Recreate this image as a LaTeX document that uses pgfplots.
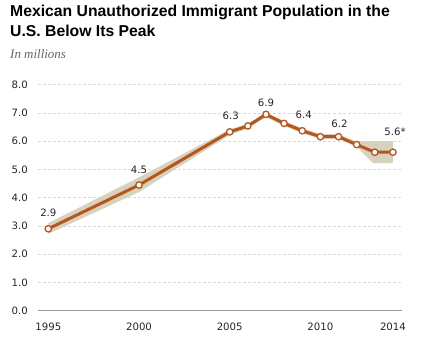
\documentclass[border=0pt]{standalone}
\usepackage{fontspec}
\setmainfont{DejaVu Sans}
\newfontfamily\titlefont{Liberation Sans}
\newfontfamily\subfont{Liberation Serif}
\usepackage{pgfplots}
\pgfplotsset{compat=1.18}
\definecolor{linebrown}{HTML}{B4561E}
\definecolor{bandtan}{HTML}{D8D1BD}
\definecolor{gridgray}{HTML}{DADADA}
\definecolor{axisgray}{HTML}{999999}
\begin{document}
\begin{tikzpicture}[x=1bp,y=1bp]
\path (0,0) rectangle (424,338);
\node[anchor=base west, inner sep=0] at (10,321.3) {\titlefont\bfseries\fontsize{15.8}{18}\selectfont Mexican Unauthorized Immigrant Population in the};
\node[anchor=base west, inner sep=0] at (10,301.3) {\titlefont\bfseries\fontsize{15.8}{18}\selectfont U.S. Below Its Peak};
\node[anchor=base west, inner sep=0, text=black!60] at (10,280) {\subfont\itshape\fontsize{13}{14}\selectfont In millions};
\begin{axis}[
  at={(38bp,27.3bp)}, anchor=south west,
  scale only axis, width=364bp, height=226bp,
  xmin=1994.43, xmax=2014.5, ymin=0, ymax=8,
  clip=false,
  axis x line*=bottom, axis y line*=left,
  x axis line style={axisgray, line width=1bp, -},
  y axis line style={draw=none},
  tick style={draw=none},
  ytick={0,1,2,3,4,5,6,7,8},
  xtick={1995,2000,2005,2010,2014},
  xticklabels={1995,2000,2005,2010,2014},
  ymajorgrids,
  major grid style={gridgray, dash pattern=on 3bp off 2bp, line width=0.8bp},
  /pgf/number format/assume math mode=true,
  yticklabel={\pgfmathprintnumber[fixed, fixed zerofill, precision=1]{\tick}},
  ticklabel style={font=\fontsize{10.2}{11}\selectfont, text=black!85},
  yticklabel style={inner sep=0pt, anchor=east, xshift=-10bp},
  xticklabel style={inner sep=0pt, anchor=north, yshift=-12bp},
]
\addplot[fill=bandtan, draw=none] coordinates {
 (1995,3.1) (2000,4.72) (2005,6.42) (2006,6.62) (2007,7.0) (2008,6.72) (2009,6.46) (2010,6.25) (2011,6.25) (2012,5.98) (2012.3,6.0) (2013,6.0) (2014,6.0)
 (2014,5.22) (2013,5.22) (2012.9,5.22) (2012,5.8) (2011,6.08) (2010,6.08) (2009,6.28) (2008,6.54) (2007,6.85) (2006,6.45) (2005,6.22) (2000,4.2) (1995,2.72)
} -- cycle;
\addplot[linebrown, line width=3bp, mark=*, mark size=3.2bp,
  mark options={fill=white, draw=linebrown, line width=1.3bp}] coordinates {
 (1995,2.9) (2000,4.45) (2005,6.33) (2006,6.54) (2007,6.95) (2008,6.63) (2009,6.37) (2010,6.16) (2011,6.16) (2012,5.88) (2013,5.61) (2014,5.61)
};
\tikzset{dl/.style={font=\fontsize{10.2}{11}\selectfont, text=black!85, inner sep=0pt, anchor=base}}
\node[dl, yshift=12bp] at (axis cs:1995,2.9) {2.9};
\node[dl, yshift=11.7bp] at (axis cs:2000,4.45) {4.5};
\node[dl, yshift=12bp, xshift=1bp] at (axis cs:2005,6.33) {6.3};
\node[dl, yshift=8bp] at (axis cs:2007,6.95) {6.9};
\node[dl, yshift=12.4bp, xshift=1.5bp] at (axis cs:2009,6.37) {6.4};
\node[dl, yshift=9.4bp, xshift=1bp] at (axis cs:2011,6.16) {6.2};
\node[dl, anchor=base west, yshift=16.3bp, xshift=-8.7bp] at (axis cs:2014,5.61) {5.6*};
\end{axis}
\end{tikzpicture}
\end{document}
